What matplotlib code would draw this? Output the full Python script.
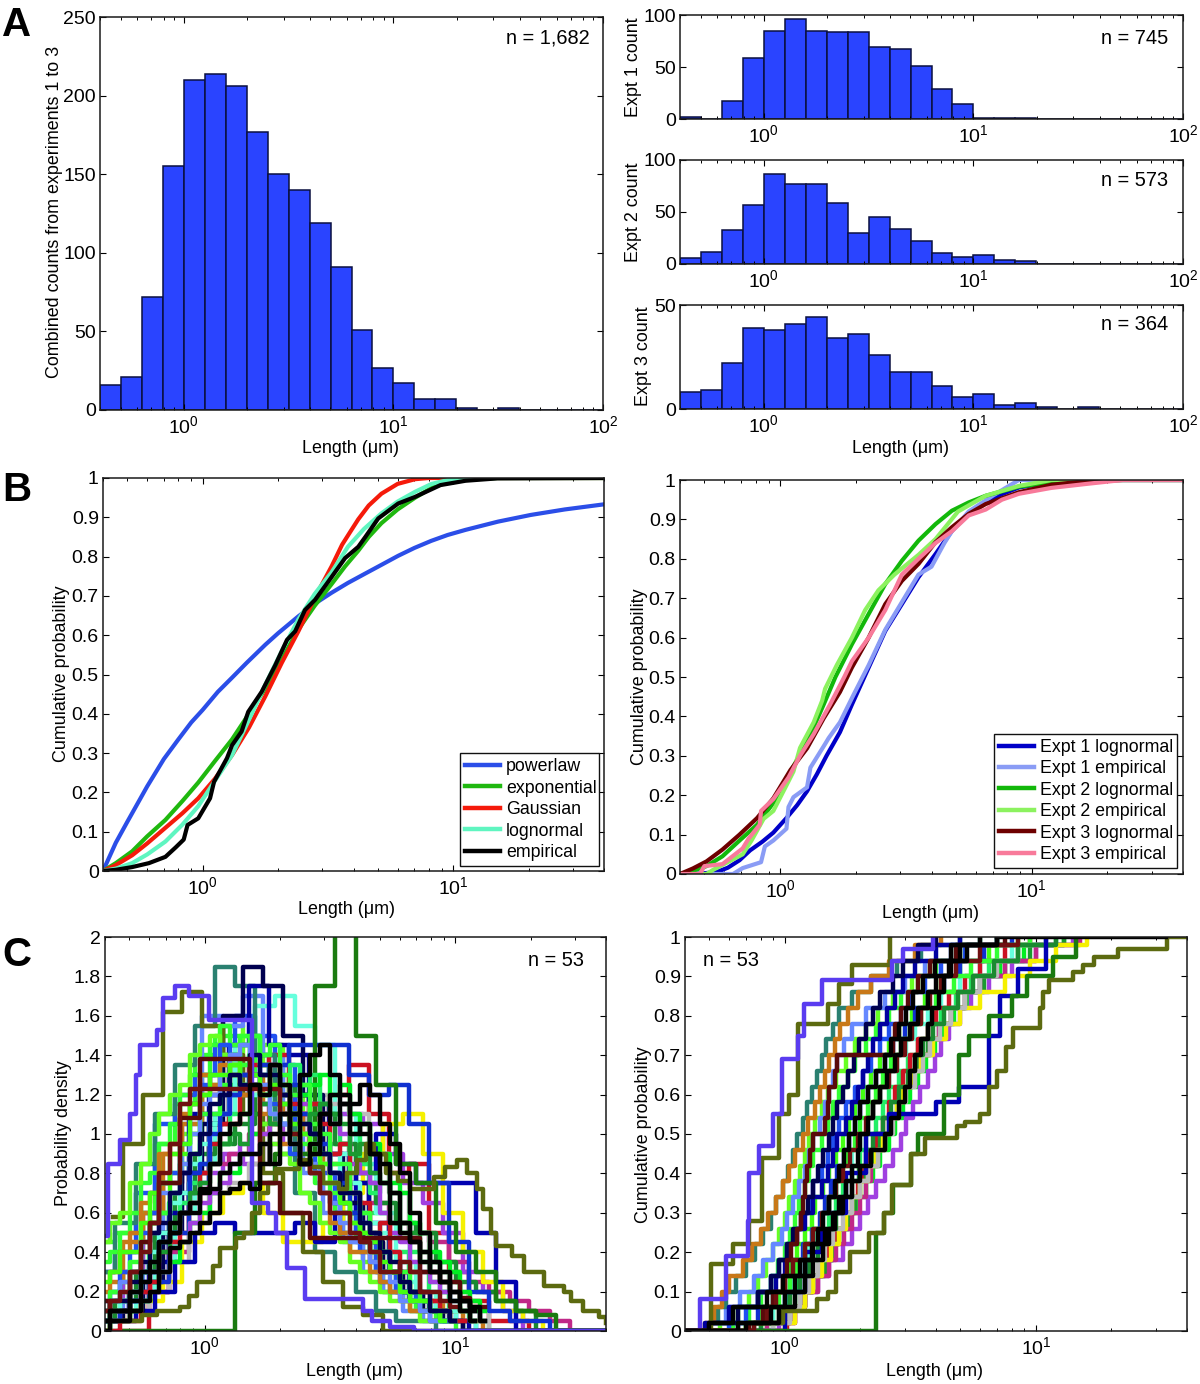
import matplotlib
matplotlib.use("Agg")
import matplotlib.pyplot as plt
from matplotlib.ticker import LogFormatterMathtext, NullFormatter, FixedLocator

plt.rcParams['font.family'] = ['Liberation Sans', 'DejaVu Sans']
plt.rcParams['font.size'] = 12.9
plt.rcParams['axes.linewidth'] = 1.1
plt.rcParams['axes.edgecolor'] = '#1a1a1a'

W, H = 1200, 1384

# Histograms
hist_edges = [.398, .501, .631, .794, 1, 1.259, 1.585, 1.995, 2.512, 3.162, 3.981, 5.012, 6.31, 7.943, 10,
              12.59, 15.85, 19.95, 25.12, 31.62, 39.81, 50.12, 63.1, 79.43, 100]
combined_counts = [16, 21, 72, 155, 210, 214, 206, 177, 150, 140, 119, 91, 51, 27, 17, 7, 7, 1, 0, 1, 0, 0, 0, 0]
expt1_counts = [2, 0, 17, 59, 85, 96, 85, 84, 84, 69, 67, 51, 29, 14, 1, 1, 1, 0, 0, 0, 0, 0, 0, 0]
expt2_counts = [6, 12, 33, 57, 87, 77, 77, 59, 30, 45, 34, 22, 11, 7, 9, 4, 3, 0, 0, 0, 0, 0, 0, 0]
expt3_counts = [8, 9, 22, 39, 38, 41, 44, 34, 36, 26, 18, 18, 11, 6, 7, 2, 3, 1, 0, 1, 0, 0, 0, 0]

# Panel B, left
powerlaw_x = [.4, .45, .5, .55, .6, .7, .8, .9, 1, 1.15, 1.31, 1.5, 1.78, 2, 2.41, 2.8, 3.27, 3.8, 4.46, 5, 6.03, 7, 8.17, 9.5, 11.2, 15.1, 20.4, 27.9, 40]
powerlaw_y = [0, .072, .125, .172, .215, .285, .335, .378, .41, .456, .492, .53, .576, .605, .648, .68, .708, .733, .757, .774, .802, .822, .84, .855, .868, .889, .906, .92, .933]
expon_x = [.4, .45, .523, .6, .71, .83, .96, 1.12, 1.31, 1.53, 1.78, 2.07, 2.41, 2.8, 3.27, 3.7, 4.18, 4.6, 5.17, 6, 7.05, 8.2, 9.55, 12, 15, 40]
expon_y = [0, .02, .05, .088, .13, .178, .225, .28, .335, .40, .465, .54, .615, .675, .73, .775, .815, .85, .885, .92, .95, .975, .99, .997, 1, 1]
gauss_x = [.4, .45, .523, .6, .71, .83, .96, 1.12, 1.31, 1.53, 1.78, 2.07, 2.41, 2.8, 3.27, 3.6, 3.9, 4.18, 4.6, 5.17, 6, 7.05, 8, 40]
gauss_y = [0, .015, .04, .07, .11, .147, .185, .235, .295, .365, .445, .53, .61, .695, .775, .83, .865, .895, .93, .96, .985, .997, 1, 1]
lognorm_x = [.4, .45, .523, .6, .71, .83, .96, 1.12, 1.31, 1.53, 1.78, 2.07, 2.41, 2.8, 3.27, 3.8, 4.4, 5.17, 6, 7.05, 8.2, 9.55, 12, 15, 40]
lognorm_y = [0, .006, .02, .042, .075, .118, .165, .23, .295, .385, .475, .56, .64, .705, .76, .825, .87, .91, .94, .965, .985, .995, .998, 1, 1]
empir_x = [.4, .45, .523, .61, .71, .78, .84, .87, .96, 1.07, 1.11, 1.25, 1.31, 1.43, 1.52, 1.72, 1.95, 2.17, 2.34,
           2.56, 2.81, 3.17, 3.7, 4.18, 4.46, 5.02, 6.03, 7.05, 8.9, 11.2, 15, 40]
empir_y = [0, .003, .01, .02, .036, .06, .08, .117, .134, .185, .227, .287, .32, .355, .405, .456, .524, .588, .61,
           .664, .69, .736, .796, .825, .85, .897, .935, .952, .982, .993, .999, 1]

# Panel B, right
e1_logn_x = [.4, .48, .56, .62, .69, .76, .85, .94, 1.06, 1.17, 1.28, 1.4, 1.53, 1.73, 1.93, 2.25, 2.62, 3.05, 3.55, 4.15, 4.82, 5.62, 6.57, 7.62, 8.9, 12, 16.5, 40]
e1_logn_y = [0, .001, .005, .016, .035, .06, .082, .105, .142, .175, .21, .253, .30, .36, .43, .524, .617, .685, .753, .812, .871, .914, .943, .964, .981, .995, 1, 1]
e1_emp_x = [.4, .65, .71, .84, .87, .94, 1.06, 1.08, 1.13, 1.28, 1.32, 1.51, 1.56, 1.73, 1.96, 2.25, 2.62, 3.05, 3.55, 4, 4.5, 4.82, 5.62, 7, 8.9, 40]
e1_emp_y = [0, 0, .015, .03, .07, .085, .115, .17, .195, .22, .27, .33, .345, .385, .455, .53, .62, .69, .76, .78, .84, .87, .92, .96, 1, 1]
e2_logn_x = [.4, .45, .51, .59, .69, .81, .94, 1.1, 1.28, 1.49, 1.66, 1.93, 2.25, 2.62, 3.05, 3.55, 4.15, 4.82, 5.62, 6.57, 8.9, 12, 16.5, 40]
e2_logn_y = [0, .008, .02, .045, .085, .125, .18, .26, .335, .43, .5, .583, .66, .736, .795, .846, .888, .922, .943, .96, .983, .994, 1, 1]
e2_emp_x = [.4, .51, .54, .71, .77, .86, .94, 1.06, 1.13, 1.2, 1.36, 1.47, 1.51, 1.68, 1.93, 2.18, 2.46, 2.85, 3.55, 4.15, 5.1, 6.57, 8.9, 12, 40]
e2_emp_y = [0, 0, .01, .05, .085, .14, .16, .225, .26, .32, .385, .44, .47, .53, .6, .67, .72, .76, .81, .85, .92, .96, .985, 1, 1]
e3_logn_x = [.4, .45, .51, .59, .69, .81, .94, 1.1, 1.28, 1.49, 1.73, 1.93, 2.25, 2.62, 3.05, 3.55, 4.15, 4.82, 5.62, 6.57, 8.9, 12, 16.5, 23, 40]
e3_logn_y = [0, .014, .032, .062, .10, .142, .192, .264, .319, .395, .462, .524, .6, .685, .744, .787, .842, .88, .914, .939, .969, .988, .997, 1, 1]
e3_emp_x = [.4, .48, .5, .59, .71, .75, .83, .84, .94, 1.08, 1.2, 1.36, 1.58, 1.8, 1.93, 2.25, 2.62, 3.05, 3.55, 4.15, 4.82, 5.62, 6.57, 7.62, 8.9, 12, 16.5, 23, 40]
e3_emp_y = [0, 0, .02, .025, .065, .09, .125, .16, .19, .245, .3, .355, .43, .5, .54, .6, .67, .76, .8, .84, .87, .91, .925, .95, .965, .98, .99, 1, 1]

# Panel C, left: densities of single cells read on three sets of bin centres
density_grids = [
    [.4, .48, .58, .69, .83, 1, 1.2, 1.45, 1.74, 2.09, 2.51, 3.02, 3.63, 4.37, 5.25, 6.31, 7.59, 9.12, 10.96, 13.18, 15.85, 19.05, 22.9, 27.5, 33.1, 40],
    [.43, .51, .62, .74, .89, 1.07, 1.29, 1.55, 1.86, 2.24, 2.69, 3.23, 3.89, 4.68, 5.62, 6.76, 8.13, 9.77, 11.7, 14.1, 17, 20.4, 24.5, 29.5, 35.5, 40],
    [.454, .545, .658, .783, .942, 1.135, 1.36, 1.65, 1.97, 2.37, 2.85, 3.43, 4.12, 4.96, 5.96, 7.16, 8.61, 10.35, 12.44, 14.96, 18, 21.6, 26, 31.2, 37.6, 40],
]
density_curves = [
    [.45, .5, .6, .95, 1.15, 1.4, 1.5, 1.5, 1.3, 1.1, .9, .75, .6, .45, .3, .2, .1, .05],
    [.2, .3, .55, .75, 1.0, 1.3, 1.55, 1.35, 1.45, 1.2, 1.0, .7, .5, .35, .2, .15, .1, .05],
    [.15, .2, .4, .65, .85, 1.05, 1.25, 1.4, 1.3, 1.2, 1.05, .95, .8, .6, .4, .3, .2, .1, .05],
    [.3, .4, .7, 1.05, 1.2, 1.3, 1.45, 1.6, 1.5, 1.35, 1.0, .8, .65, .5, .3, .2, .15, .1, .05],
    [.1, .15, .3, .6, 1.05, 1.6, 1.55, 1.7, 1.4, 1.1, .8, .6, .45, .3, .2, .1, .05, .05],
    [0, 0, .2, .5, .8, 1.05, 1.3, 1.35, 1.4, 1.2, 1.1, 1.2, 1.35, 1.1, .8, .85, .5, .3, .15, .05, .05],
    [.05, .1, .15, .35, .6, .85, 1.1, 1.45, 1.65, 1.7, 1.55, 1.45, 1.1, .85, .6, .35, .2, .1, .05],
    [.15, .3, .6, .75, .8, .8, .9, .85, .95, 1.05, 1.1, 1.1, 1.1, 1.05, .9, .75, .65, .5, .3, .2, .1],
    [.05, .1, .2, .4, .7, .85, .9, 1.0, 1.15, 1.1, .9, .8, .75, .65, .55, .5, .45, .35, .25, .2, .15, .1, .05],
    [.3, .55, .85, 1.1, 1.35, 1.55, 1.85, 1.75, 1.4, 1.05, .7, .4, .3, .2, .1, .05, .05],
    [.05, .1, .15, .25, .45, .6, .7, .75, .6, .45, .45, .55, .7, .9, 1.05, 1.1, .9, .6, .4, .25, .1, .05],
    [.05, .1, .2, .35, .55, .7, .75, .85, 1.0, 1.1, 1.2, 1.15, 1.1, .9, .7, .5, .3, .2, .1],
    [.05, .15, .3, .5, .7, .9, .95, 1.05, 1.2, 1.25, 1.2, 1.1, .95, .75, .65, .55, .5, .35, .25, .2, .15, .1],
    [.25, .45, .6, .9, 1.05, 1.2, 1.35, 1.3, 1.15, 1.1, 1.0, .85, .65, .45, .3, .2, .15, .1, .05],
    [.1, .2, .35, .6, 1.1, 1.2, 1.45, 1.75, 1.45, 1.4, 1.15, .9, .75, .55, .3, .15, .1, .05],
    [.05, .05, .1, .2, .35, .5, .55, .5, .5, .5, .55, .45, .6, .8, 1.0, .85, .75, .75, .75, .5, .25],
    [.05, .1, .25, .5, .8, 1.05, 1.6, 1.85, 1.75, 1.5, 1.2, .9, .65, .45, .3, .2, .1, .05],
    [.1, .15, .25, .5, .75, 1.1, 1.2, 1.3, 1.35, 1.45, 1.45, 1.45, 1.3, 1.2, 1.25, 1.05, .75, .45, .2, .1, .05, .05],
    [0, 0, 0, 0, 0, 0, 0, .5, .75, .9, .9, 1.75, 2.2, 1.5, 1.25, .85, .75, .55, .4, .3, .15, .1, .08],
    [.58, .95, 1.2, 1.62, 1.72, 1.55, 1.4, 1.1, .8, .6, .4, .25, .12, .08],
]
density_colors = ['#33ff33', '#66ff22', '#22ee66', '#2050f0', '#6688ff', '#cc1122', '#66ffdd', '#a040e0', '#c02888',
                  '#2a8070', '#f5f000', '#bbbbbb', '#1a8a30', '#c87818', '#0000a0', '#0000b0', '#000050', '#1030d0',
                  '#1a7a10', '#5c6a10']

fine_grid = [.4, .44, .48, .53, .58, .63, .69, .76, .83, .91, 1, 1.1, 1.2, 1.32, 1.45, 1.58, 1.74, 1.91, 2.09, 2.29,
             2.51, 2.75, 3.02, 3.31, 3.63, 3.98, 4.37, 4.79, 5.25, 5.75, 6.31, 6.92, 7.59, 8.32, 9.12, 10, 10.96, 12, 13.18]
fine_curves = [
    [.35, .4, .5, .6, .75, .8, .95, 1.05, 1.2, 1.3, 1.3, 1.45, 1.55, 1.45, 1.5, 1.4, 1.35, 1.15, 1.2, 1.0, .95, .8, .75, .7, .6, .55, .45, .4, .3, .3, .2, .15, .15, .1, .05, .05],
    [.1, .15, .25, .3, .45, .55, .6, .8, .9, 1.0, 1.2, 1.25, 1.4, 1.3, 1.45, 1.5, 1.35, 1.3, 1.25, 1.1, 1.15, .95, .9, .75, .7, .6, .5, .45, .4, .3, .25, .15, .1, .1, .05],
    [.05, .1, .15, .2, .3, .35, .45, .5, .65, .75, .8, .95, .95, 1.1, 1.1, 1.25, 1.2, 1.3, 1.2, 1.35, 1.25, 1.3, 1.15, 1.1, .95, 1.0, .85, .7, .75, .55, .5, .4, .35, .25, .2, .15, .1, .05],
    [0, .05, .05, .1, .15, .25, .3, .35, .45, .55, .6, .7, .8, .8, .9, 1.0, 1.05, 1.05, 1.15, 1.1, 1.2, 1.25, 1.3, 1.2, 1.25, 1.1, 1.05, .95, .9, .75, .7, .55, .5, .4, .35, .3, .2, .15, .1],
    [.45, .55, .6, .75, .85, 1.0, 1.1, 1.2, 1.25, 1.4, 1.45, 1.5, 1.4, 1.35, 1.2, 1.2, 1.05, .95, .9, .85, .7, .65, .55, .5, .45, .35, .3, .25, .2, .15, .15, .1, .05, .05],
    [.05, .1, .15, .2, .35, .4, .5, .65, .7, .85, .95, 1.05, 1.1, 1.2, 1.25, 1.2, 1.2, 1.1, 1.05, 1.1, 1.0, .95, .85, .8, .9, .75, .6, .55, .5, .4, .35, .25, .2, .15, .15, .1, .1, .05],
    [.15, .2, .3, .4, .5, .6, .75, .8, .95, 1.15, 1.25, 1.3, 1.45, 1.4, 1.3, 1.25, 1.15, 1.15, 1.05, .9, .85, .8, .7, .65, .5, .5, .4, .35, .25, .2, .2, .15, .1, .05, .05],
    [.05, .05, .1, .2, .2, .3, .3, .45, .45, .55, .65, .7, .75, .85, .95, .9, 1.0, 1.05, 1.1, 1.2, 1.15, 1.15, 1.1, 1.05, 1.0, .85, .8, .75, .6, .5, .45, .35, .3, .25, .2, .15, .15, .1, .05],
    [0, 0, .05, .05, .2, .25, .4, .45, .6, .65, .8, .95, 1.05, 1.05, 1.2, 1.3, 1.25, 1.35, 1.2, 1.15, 1.1, 1.15, 1.05, .9, .95, .7, .65, .5, .55, .4, .3, .3, .2, .15, .1, .05, .05],
    [.2, .3, .4, .5, .65, .7, .9, .95, 1.1, 1.15, 1.3, 1.25, 1.35, 1.3, 1.2, 1.25, 1.1, 1.05, .95, 1.0, .85, .8, .7, .55, .5, .4, .4, .3, .25, .2, .15, .1, .1, .05],
    [.05, .05, .1, .15, .3, .3, .45, .5, .6, .8, .85, 1.0, 1.1, 1.2, 1.3, 1.25, 1.35, 1.3, 1.2, 1.25, 1.1, 1.0, .95, .8, .75, .6, .55, .4, .4, .3, .2, .2, .15, .1, .05, .05],
    [.1, .2, .2, .35, .4, .55, .6, .7, .85, .9, 1.1, 1.1, 1.25, 1.4, 1.35, 1.5, 1.4, 1.45, 1.3, 1.2, 1.25, 1.05, 1.0, .85, .85, .7, .6, .5, .4, .3, .3, .2, .15, .1, .1, .05],
    [.05, .1, .1, .2, .3, .35, .4, .55, .6, .7, .75, .85, .95, 1.0, .95, 1.1, 1.15, 1.05, 1.1, 1.0, 1.05, 1.1, 1.15, 1.1, 1.05, .9, .95, .8, .75, .7, .55, .5, .4, .35, .3, .25, .15, .1, .05],
    [.1, .15, .25, .3, .45, .5, .7, .7, .85, 1.0, 1.15, 1.2, 1.3, 1.4, 1.45, 1.3, 1.25, 1.1, 1.05, .95, .85, .85, .7, .65, .55, .45, .45, .35, .3, .25, .15, .15, .1, .05, .05],
    [.25, .3, .4, .4, .55, .7, .75, .9, .95, 1.15, 1.2, 1.3, 1.3, 1.35, 1.25, 1.3, 1.2, 1.25, 1.15, 1.05, 1.0, .9, .85, .75, .65, .55, .5, .4, .35, .3, .2, .15, .15, .1, .05],
    [.1, .15, .15, .25, .35, .5, .55, .7, .8, .9, 1.0, 1.15, 1.2, 1.3, 1.25, 1.4, 1.3, 1.3, 1.2, 1.1, 1.05, 1.0, .9, .8, .7, .7, .55, .5, .4, .35, .25, .2, .2, .1, .1, .05],
]
fine_colors = ['#33ff33', '#44ff11', '#22ee66', '#00ee22', '#66ff22', '#66ffdd', '#2050f0', '#a040e0', '#cc1122',
               '#c87818', '#1030d0', '#33ff33', '#1a9a30', '#6688ff', '#44ff11', '#000050']
dark_curves = [
    [.15, .1, .1, .3, .45, .55, .75, .75, 1.08, 1.08, 1.38, 1.38, 1.38, 1.38, 1.38, 1.25, .75, .75, .6, .6, .6, .47, .47, .47, .47, .47, .47, .47, .47, .47, .47, .47, .3, .3, .25, .25, .17, .12, .12],
    [.1, .15, .2, .3, .4, .55, .8, .95, 1.15, 1.23, 1.23, 1.23, 1.23, 1.23, 1.23, 1.23, 1.23, 1.23, 1.1, 1.0, .85, .8, .7, .6, .6, .5, .45, .4, .3, .3, .35, .3, .2, .2, .15, .12, .1, .05],
    [0, .05, .05, .1, .15, .2, .3, .42, .45, .5, .55, .6, .7, .72, .75, .72, .85, 1.0, 1.1, .95, .85, .9, 1.1, 1.2, 1.2, 1.15, 1.25, 1.2, 1.05, .95, .8, .6, .5, .35, .3, .2, .15, .12, .05],
    [.05, .1, .1, .2, .3, .35, .45, .5, .6, .6, .7, .85, 1.0, 1.05, 1.1, 1.25, 1.2, 1.35, 1.25, 1.1, 1.3, 1.4, 1.45, 1.3, 1.15, 1.0, 1.05, .9, .85, .7, .55, .45, .35, .3, .25, .15, .1, .05],
    [.05, .1, .1, .15, .25, .3, .45, .55, .6, .65, .72, .72, .8, .85, .9, .9, .95, .85, 1.0, 1.1, .85, .95, 1.1, 1.05, 1.15, 1.05, 1.0, .9, .75, .55, .5, .45, .4, .3, .25, .2, .15, .1],
]
dark_colors = ['#5a0a0a', '#701010', '#000000', '#000000', '#000000']

violet_d_x = [.4, .411, .459, .502, .53, .55, .647, .683, .76, .865, 1.04, 1.545, 1.786, 1.92, 2.14, 2.52, 4.27, 4.67, 5.5, 6.84, 40]
violet_d_y = [.48, .85, .97, 1.1, 1.3, 1.45, 1.53, 1.69, 1.75, 1.7, 1.58, .65, .6, .5, .32, .16, .1, .05, .02, 0, 0]
olive_d_x = [.4, .419, .56, .647, .80, .865, .93, 1.075, 1.156, 1.337, 1.437, 1.545, 1.66, 1.786, 1.92, 2.39, 2.66, 2.97, 3.43, 3.69, 4.04,
             4.42, 4.75, 5.3, 5.9, 6.6, 8.2, 9.1, 10.2, 11.1, 12.2, 12.9, 13.9, 14.6, 16.9, 18.8, 22.6, 27.1, 29.1, 32.5, 37.6, 40]
olive_d_y = [0, .05, .08, .1, .12, .18, .25, .33, .42, .47, .5, .6, .7, .75, .82, .87, .83, .75, .72, .8, .87,
             .95, .9, .8, .76, .72, .78, .83, .87, .8, .72, .62, .5, .43, .38, .3, .23, .2, .15, .1, .07, .04]

# Panel C, right: cumulative curves, lengths reached at each probability level
cdf_levels = [.02, .06, .1, .14, .18, .22, .26, .3, .34, .38, .42, .46, .5, .54, .58, .62, .66, .7, .74, .78, .82, .86, .9, .94, .98, 1]
cdf_curves = [
    [.62, .72, .8, .88, .94, 1.0, 1.05, 1.1, 1.14, 1.2, 1.25, 1.3, 1.4, 1.48, 1.55, 1.65, 1.78, 1.9, 2.1, 2.3, 2.6, 2.9, 3.4, 4.0, 5.0, 7.0],
    [.7, .8, .9, 1.0, 1.05, 1.12, 1.2, 1.28, 1.32, 1.42, 1.5, 1.6, 1.7, 1.8, 1.9, 2.05, 2.2, 2.4, 2.6, 2.85, 3.2, 3.6, 4.2, 5.0, 6.5, 8.5],
    [.8, .9, 1.02, 1.12, 1.2, 1.3, 1.4, 1.5, 1.6, 1.7, 1.85, 2.0, 2.1, 2.3, 2.45, 2.6, 2.85, 3.1, 3.4, 3.7, 4.2, 4.8, 5.5, 6.5, 8.5, 12],
    [.85, 1.0, 1.15, 1.3, 1.42, 1.55, 1.65, 1.8, 1.95, 2.1, 2.25, 2.4, 2.6, 2.75, 2.95, 3.15, 3.4, 3.65, 3.95, 4.3, 4.7, 5.3, 6.0, 7.2, 9.0, 13],
    [.55, .65, .72, .78, .84, .9, .95, 1.0, 1.04, 1.1, 1.15, 1.2, 1.25, 1.32, 1.4, 1.48, 1.6, 1.75, 1.9, 2.1, 2.35, 2.7, 3.2, 3.8, 4.8, 6.0],
    [.75, .9, 1.0, 1.08, 1.15, 1.25, 1.32, 1.42, 1.5, 1.6, 1.7, 1.85, 2.0, 2.15, 2.25, 2.4, 2.6, 2.8, 3.05, 3.3, 3.7, 4.2, 5.0, 6.0, 8.0, 11],
    [.6, .7, .78, .88, .95, 1.02, 1.1, 1.18, 1.25, 1.3, 1.4, 1.48, 1.55, 1.65, 1.75, 1.9, 2.05, 2.2, 2.4, 2.6, 2.9, 3.2, 3.6, 4.2, 5.2, 7.0],
    [.95, 1.1, 1.2, 1.35, 1.5, 1.7, 1.85, 2.0, 2.15, 2.3, 2.5, 2.7, 2.9, 3.05, 3.25, 3.45, 3.7, 3.95, 4.2, 4.5, 5.0, 5.5, 6.5, 8, 10, 14],
    [1.02, 1.1, 1.2, 1.3, 1.4, 1.5, 1.6, 1.72, 1.85, 1.95, 2.05, 2.15, 2.3, 2.45, 2.6, 2.75, 2.95, 3.15, 3.4, 3.7, 4.0, 4.5, 5.2, 6.0, 7.5, 9.5],
    [.9, 1.05, 1.2, 1.3, 1.45, 1.55, 1.65, 1.8, 1.9, 2.0, 2.1, 2.25, 2.4, 2.6, 2.8, 3.0, 3.2, 3.4, 3.7, 4.1, 4.6, 5.2, 6.2, 7.5, 9.5, 13],
    [.5, .58, .66, .75, .82, .9, .97, 1.02, 1.08, 1.14, 1.2, 1.25, 1.3, 1.38, 1.45, 1.5, 1.55, 1.62, 1.72, 1.85, 2.1, 2.5, 3.0, 3.6, 4.6, 6.0],
    [.65, .78, .9, 1.0, 1.08, 1.18, 1.28, 1.38, 1.45, 1.52, 1.62, 1.72, 1.8, 1.9, 2.0, 2.15, 2.3, 2.5, 2.7, 3.0, 3.3, 3.7, 4.3, 5.0, 6.2, 8.0],
    [.85, 1.05, 1.2, 1.35, 1.5, 1.6, 1.72, 1.85, 2.0, 2.1, 2.2, 2.35, 2.5, 2.65, 2.85, 3.0, 3.2, 3.5, 3.8, 4.1, 4.6, 5.2, 6.0, 7.5, 10, 15],
    [.7, .85, .95, 1.05, 1.12, 1.2, 1.3, 1.4, 1.5, 1.6, 1.68, 1.78, 1.9, 2.0, 2.15, 2.3, 2.45, 2.65, 2.9, 3.15, 3.5, 4.0, 4.7, 5.5, 7.0, 9.5],
    [1.0, 1.1, 1.2, 1.3, 1.4, 1.52, 1.65, 1.75, 1.85, 2.0, 2.15, 2.3, 2.45, 2.65, 2.8, 2.95, 3.2, 3.5, 3.9, 4.4, 5.0, 6.0, 7.5, 9.5, 12, 16],
    [.5, .54, .58, .64, .7, .76, .82, .88, .92, .98, 1.03, 1.08, 1.12, 1.18, 1.22, 1.28, 1.34, 1.4, 1.46, 1.55, 1.65, 1.85, 2.2, 2.8, 3.5, 5.0],
    [.9, 1.05, 1.15, 1.25, 1.35, 1.45, 1.55, 1.7, 1.85, 2.0, 2.15, 2.35, 2.5, 2.7, 2.85, 3.05, 3.3, 3.55, 3.8, 4.15, 4.6, 5.2, 6.0, 7.0, 8.5, 11],
    [.8, .95, 1.05, 1.15, 1.25, 1.35, 1.48, 1.6, 1.72, 1.85, 1.98, 2.1, 2.25, 2.45, 2.65, 2.85, 3.1, 3.3, 3.55, 3.9, 4.3, 4.9, 5.6, 6.8, 8.5, 12],
    [.48, .52, .56, .6, .68, .74, .8, .86, .92, .98, 1.04, 1.1, 1.18, 1.24, 1.32, 1.38, 1.44, 1.5, 1.58, 1.66, 1.78, 1.95, 2.2, 2.6, 3.3, 4.2],
    [.48, .6, .78, .92, 1.0, 1.05, 1.12, 1.2, 1.3, 1.4, 1.48, 1.55, 1.62, 1.75, 1.85, 1.95, 2.05, 2.15, 2.25, 2.4, 2.55, 2.75, 2.95, 3.3, 4.0, 5.0],
    [.5, .65, .78, .88, .95, 1.02, 1.08, 1.16, 1.24, 1.3, 1.36, 1.42, 1.5, 1.56, 1.62, 1.7, 1.78, 1.88, 1.98, 2.1, 2.25, 2.4, 2.7, 2.95, 3.4, 4.0],
]
cdf_colors = ['#33ff33', '#44ff11', '#22ee66', '#00ee22', '#66ff22', '#66ffdd', '#2050f0', '#a040e0', '#cc1122',
              '#1a9a30', '#6688ff', '#1030d0', '#c02888', '#33ff33', '#f5f000', '#2a8070', '#bbbbbb', '#1a8a30',
              '#c87818', '#0000a0', '#000050']
cdf_dark_curves = [
    [.72, .82, .9, .98, 1.02, 1.06, 1.12, 1.16, 1.18, 1.2, 1.22, 1.26, 1.3, 1.45, 1.48, 1.5, 1.58, 1.62, 2.7, 2.75, 2.9, 3.1, 3.4, 3.8, 4.8, 7.5],
    [.75, .85, .92, 1.0, 1.08, 1.2, 1.3, 1.4, 1.5, 1.6, 1.7, 1.82, 1.95, 2.1, 2.25, 2.4, 2.6, 2.8, 3.0, 3.2, 3.5, 3.8, 4.2, 4.8, 6.0, 8.5],
    [.5, .62, .85, .98, 1.15, 1.3, 1.45, 1.55, 1.7, 1.85, 2.0, 2.2, 2.5, 2.65, 2.85, 3.0, 3.15, 3.3, 3.5, 3.7, 3.85, 4.1, 4.3, 4.6, 5.3, 7.0],
    [.7, .95, 1.1, 1.2, 1.3, 1.42, 1.5, 1.58, 1.65, 1.75, 1.85, 1.95, 2.0, 2.15, 2.25, 2.4, 2.55, 2.75, 2.9, 3.15, 3.4, 3.7, 4.0, 4.5, 5.0, 7.0],
    [.65, .88, 1.0, 1.1, 1.2, 1.28, 1.35, 1.42, 1.5, 1.58, 1.65, 1.72, 1.8, 1.9, 2.0, 2.15, 2.3, 2.5, 2.65, 2.85, 3.05, 3.25, 3.55, 3.95, 4.6, 6.0],
]
cdf_dark_colors = ['#5a0a0a', '#701010', '#000000', '#000000', '#000000']

navy_cdf_x = [.4, 1.0, 1.2, 1.4, 1.75, 2.1, 2.6, 4.0, 4.95, 6.5, 7.2, 8.5, 11]
navy_cdf_y = [0, .1, .2, .3, .4, .5, .55, .58, .62, .75, .85, .92, 1]
green_cdf_x = [.4, 2.3, 2.49, 2.7, 3.17, 3.4, 4.3, 4.95, 5.4, 6.5, 8.0, 9.2, 11.7, 14.4]
green_cdf_y = [0, .25, .3, .37, .45, .5, .6, .7, .75, .8, .85, .9, .95, 1]
olive_r_x = [.4, .75, .98, 1.34, 1.48, 1.6, 1.82, 2.17, 2.49, 2.66, 3.17, 3.62, 4.86, 5.2, 5.97, 6.5, 7.0, 7.6, 8.1, 10.4, 10.7, 11.3, 14.1, 15.4, 17, 21.3, 33.3, 40]
olive_r_y = [0, .02, .05, .08, .1, .15, .2, .25, .3, .37, .45, .49, .52, .53, .55, .62, .66, .72, .77, .82, .86, .89, .91, .93, .95, .97, 1, 1]
olive_l_x = [.4, .51, .62, .72, .81, .95, 1.04, 1.13, 1.48, 1.65, 1.85, 2.62]
olive_l_y = [0, .17, .22, .28, .44, .55, .6, .78, .83, .88, .93, 1]
violet_x = [.4, .46, .58, .71, .72, .79, .90, .97, 1.13, 1.19, 1.41, 2.66, 2.95, 3.89]
violet_y = [0, .08, .19, .28, .4, .47, .55, .69, .75, .83, .89, .94, .97, 1]
black_top_x = [7, 33]
black_top_y = [1, 1]

BAR_COLOR = '#2a44ff'
BAR_EDGE = '#0a1040'
TICK_SIZE = 14
STEP_LW = 3.2


def make_axes(fig, left, right, top, bottom):
    return fig.add_axes([left / W, 1 - bottom / H, (right - left) / W, (bottom - top) / H])


def style_log_axis(ax, xlim):
    ax.set_xscale('log')
    ax.set_xlim(*xlim)
    ax.xaxis.set_major_formatter(LogFormatterMathtext())
    ax.xaxis.set_minor_formatter(NullFormatter())
    ax.tick_params(which='major', direction='in', top=True, right=True, length=4, width=.8, labelsize=TICK_SIZE)
    ax.tick_params(which='minor', direction='in', top=True, length=2, width=.7)
    ax.tick_params(axis='x', which='major', pad=4)
    ax.tick_params(axis='y', which='major', pad=3)


def add_labels(fig, ax, ylabel, ylabel_x, ylabel_y, xlabel_x=None, xlabel_y=None):
    ax.set_ylabel(ylabel, rotation=90, ha='center', va='center')
    ax.yaxis.set_label_coords(ylabel_x / W, 1 - ylabel_y / H, transform=fig.transFigure)
    if xlabel_x is not None:
        ax.set_xlabel('Length (\u03bcm)', ha='center', va='center')
        ax.xaxis.set_label_coords(xlabel_x / W, 1 - xlabel_y / H, transform=fig.transFigure)


def draw_hist(ax, counts, ymax, yticks):
    widths = [hist_edges[i + 1] - hist_edges[i] for i in range(len(counts))]
    ax.bar(hist_edges[:-1], counts, width=widths, align='edge', color=BAR_COLOR, edgecolor=BAR_EDGE, linewidth=1.1)
    style_log_axis(ax, (.398, 100))
    ax.set_ylim(0, ymax)
    ax.set_yticks(yticks)


def prob_ticks(ax):
    ticks = [0, .1, .2, .3, .4, .5, .6, .7, .8, .9, 1]
    ax.yaxis.set_major_locator(FixedLocator(ticks))
    ax.set_yticklabels(['0', '0.1', '0.2', '0.3', '0.4', '0.5', '0.6', '0.7', '0.8', '0.9', '1'])
    ax.set_ylim(0, 1)


def draw_legend(ax, box):
    leg = ax.legend(loc='lower left', bbox_to_anchor=box, bbox_transform=ax.figure.transFigure, mode='expand',
                    fontsize=12.8, frameon=True, fancybox=False, framealpha=1, edgecolor='#111111',
                    handlelength=1.95, handletextpad=.35, labelspacing=.25, borderpad=.28, borderaxespad=0)
    leg.get_frame().set_linewidth(1.0)
    for line in leg.get_lines():
        line.set_linewidth(3.2)


fig = plt.figure(figsize=(W / 100, H / 100), dpi=100)

# Panel A
ax = make_axes(fig, 100, 603, 17, 410)
draw_hist(ax, combined_counts, 250, [0, 50, 100, 150, 200, 250])
add_labels(fig, ax, 'Combined counts from experiments 1 to 3', 55, 212, 350, 449)
fig.text(590 / W, 1 - 38 / H, 'n = 1,682', ha='right', va='center', fontsize=14.4)

hist_sets = [(expt1_counts, 100, [0, 50, 100], 15, 119, 'Expt 1 count', 633, 67, 'n = 745', 38),
             (expt2_counts, 100, [0, 50, 100], 160, 264, 'Expt 2 count', 634, 212, 'n = 573', 181),
             (expt3_counts, 50, [0, 50], 305, 409, 'Expt 3 count', 644, 356, 'n = 364', 325)]
for counts, ymax, yticks, top, bottom, label, lab_x, lab_y, n_text, n_y in hist_sets:
    ax = make_axes(fig, 680, 1183, top, bottom)
    draw_hist(ax, counts, ymax, yticks)
    if label == 'Expt 3 count':
        add_labels(fig, ax, label, lab_x, lab_y, 900, 449)
    else:
        add_labels(fig, ax, label, lab_x, lab_y)
    fig.text(1168 / W, 1 - n_y / H, n_text, ha='right', va='center', fontsize=14.4)

# Panel B
ax = make_axes(fig, 103, 604, 478, 871)
ax.plot(powerlaw_x, powerlaw_y, color='#2b4ee8', lw=3, label='powerlaw')
ax.plot(expon_x, expon_y, color='#1fb80f', lw=3, label='exponential')
ax.plot(gauss_x, gauss_y, color='#f51a0a', lw=3, label='Gaussian')
ax.plot(lognorm_x, lognorm_y, color='#5ff5c0', lw=3, label='lognormal')
ax.plot(empir_x, empir_y, color='#000000', lw=3, label='empirical')
style_log_axis(ax, (.4, 40))
prob_ticks(ax)
add_labels(fig, ax, 'Cumulative probability', 62, 674, 347, 909)
draw_legend(ax, (460 / W, 1 - 866 / H, 139 / W, 112 / H))

ax = make_axes(fig, 680, 1183, 480, 874)
ax.plot(e1_logn_x, e1_logn_y, color='#0000c8', lw=3, label='Expt 1 lognormal')
ax.plot(e1_emp_x, e1_emp_y, color='#8a9cf5', lw=3, label='Expt 1 empirical')
ax.plot(e2_logn_x, e2_logn_y, color='#12b80a', lw=3, label='Expt 2 lognormal')
ax.plot(e2_emp_x, e2_emp_y, color='#8cf25f', lw=3, label='Expt 2 empirical')
ax.plot(e3_logn_x, e3_logn_y, color='#6e0000', lw=3, label='Expt 3 lognormal')
ax.plot(e3_emp_x, e3_emp_y, color='#f87a9a', lw=3, label='Expt 3 empirical')
style_log_axis(ax, (.4, 40))
prob_ticks(ax)
add_labels(fig, ax, 'Cumulative probability', 640, 677, 931, 913)
draw_legend(ax, (994 / W, 1 - 868 / H, 183 / W, 133 / H))

# Panel C
ax = make_axes(fig, 105, 606, 937, 1331)
for i, values in enumerate(density_curves):
    grid = density_grids[i % 3]
    full = values + [0] * (len(grid) - len(values))
    ax.step(grid, full, where='mid', color=density_colors[i], lw=STEP_LW)
for i, values in enumerate(fine_curves):
    ax.step(fine_grid[:len(values)], values, where='mid', color=fine_colors[i], lw=STEP_LW)
ax.step(olive_d_x, olive_d_y, where='post', color='#5c6a10', lw=STEP_LW)
ax.step(violet_d_x, violet_d_y, where='post', color='#5a3cf0', lw=STEP_LW)
for i, values in enumerate(dark_curves):
    ax.step(fine_grid[:len(values)], values, where='mid', color=dark_colors[i], lw=STEP_LW)
style_log_axis(ax, (.4, 40))
ax.set_ylim(0, 2)
ax.set_yticks([0, .2, .4, .6, .8, 1, 1.2, 1.4, 1.6, 1.8, 2])
ax.set_yticklabels(['0', '0.2', '0.4', '0.6', '0.8', '1', '1.2', '1.4', '1.6', '1.8', '2'])
add_labels(fig, ax, 'Probability density', 64, 1133, 355, 1371)
fig.text(584 / W, 1 - 960 / H, 'n = 53', ha='right', va='center', fontsize=14.4)

ax = make_axes(fig, 685, 1187, 937, 1331)
for i, lengths in enumerate(cdf_curves):
    ax.step([.4] + lengths, [0] + cdf_levels, where='post', color=cdf_colors[i], lw=STEP_LW)
ax.step(navy_cdf_x, navy_cdf_y, where='post', color='#0000b4', lw=STEP_LW)
ax.step(green_cdf_x, green_cdf_y, where='post', color='#1a7a10', lw=STEP_LW)
ax.step(olive_r_x, olive_r_y, where='post', color='#5c6a10', lw=STEP_LW)
ax.step(olive_l_x, olive_l_y, where='post', color='#5c6a10', lw=STEP_LW)
ax.step(violet_x, violet_y, where='post', color='#5a3cf0', lw=STEP_LW)
for i, lengths in enumerate(cdf_dark_curves):
    ax.step([.4] + lengths, [0] + cdf_levels, where='post', color=cdf_dark_colors[i], lw=STEP_LW)
ax.plot(black_top_x, black_top_y, color='#000000', lw=STEP_LW)
style_log_axis(ax, (.4, 40))
prob_ticks(ax)
add_labels(fig, ax, 'Cumulative probability', 644, 1135, 935, 1371)
fig.text(703 / W, 1 - 960 / H, 'n = 53', ha='left', va='center', fontsize=14.4)

# Panel letters
for letter, y in [('A', 25), ('B', 490), ('C', 955)]:
    fig.text(2 / W, 1 - y / H, letter, ha='left', va='center', fontsize=29, fontweight='bold')

plt.savefig('out.png', dpi=100)
